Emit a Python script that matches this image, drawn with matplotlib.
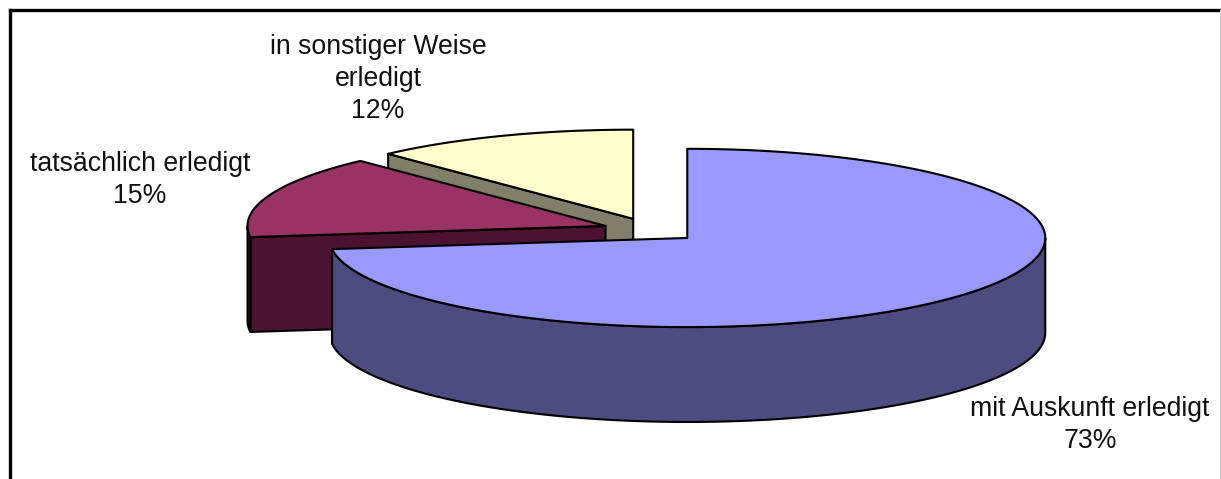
import numpy as np
import matplotlib.pyplot as plt
from matplotlib.patches import Polygon
from matplotlib.lines import Line2D

plt.rcParams['font.family'] = ['Liberation Sans', 'DejaVu Sans']

# slices, clockwise from 12 o'clock
labels = ["mit Auskunft erledigt", "tatsächlich erledigt", "in sonstiger Weise\nerledigt"]
shares = [73, 15, 12]
top_colors = ["#9999FF", "#993366", "#FFFFCC"]
side_colors = ["#4C4C80", "#4C1232", "#808068"]

W, H = 1221, 479
RADIUS_PX = 358
CENTER_PX = (651, 230)
TILT = 0.249      # vertical squash of the disc
DEPTH = 0.265     # thickness of the disc
EXPLODE = 0.135
START = 90.0
EDGE = dict(edgecolor="black", linewidth=1.5, joinstyle="round")


def proj(cx, cy, t, z=0.0):
    x = cx + np.cos(t)
    y = cy + np.sin(t)
    return np.column_stack([x, y * TILT + z])


def front_parts(lo, hi):
    # pieces of [lo, hi] (radians) where the rim faces the viewer (sin < 0)
    parts = []
    for k in range(-2, 2):
        a, b = -np.pi + 2 * np.pi * k, 2 * np.pi * k
        s, e = max(lo, a), min(hi, b)
        if e > s:
            parts.append((s, e))
    return parts


fig = plt.figure(figsize=(W / 100, H / 100), dpi=100)
ax = fig.add_axes([0, 0, 1, 1])
ax.set_xlim(-CENTER_PX[0] / RADIUS_PX, (W - CENTER_PX[0]) / RADIUS_PX)
ax.set_ylim(-(H - CENTER_PX[1]) / RADIUS_PX, CENTER_PX[1] / RADIUS_PX)
ax.axis("off")

slices = []
hi = START
for share, top_c, side_c in zip(shares, top_colors, side_colors):
    lo = hi - share * 3.6
    mid = np.radians((hi + lo) / 2)
    cx, cy = EXPLODE * np.cos(mid), EXPLODE * np.sin(mid)
    slices.append((np.radians(lo), np.radians(hi), cx, cy, top_c, side_c))
    hi = lo

# back slices first
slices.sort(key=lambda s: -s[3])

for lo, hi, cx, cy, top_c, side_c in slices:
    c_top = np.array([[cx, cy * TILT]])
    c_bot = np.array([[cx, cy * TILT - DEPTH]])
    # cut faces that look toward the viewer
    for ang, normal in ((lo, lo - np.pi / 2), (hi, hi + np.pi / 2)):
        if np.sin(normal) < -1e-6:
            r_top = proj(cx, cy, np.array([ang]))
            r_bot = proj(cx, cy, np.array([ang]), -DEPTH)
            pts = np.vstack([c_top, r_top, r_bot, c_bot])
            ax.add_patch(Polygon(pts, closed=True, facecolor=side_c, **EDGE))
    # curved outer wall
    for s, e in front_parts(lo, hi):
        t = np.linspace(s, e, 200)
        pts = np.vstack([proj(cx, cy, t), proj(cx, cy, t[::-1], -DEPTH)])
        ax.add_patch(Polygon(pts, closed=True, facecolor=side_c, **EDGE))
    # top face
    t = np.linspace(lo, hi, 400)
    pts = np.vstack([c_top, proj(cx, cy, t)])
    ax.add_patch(Polygon(pts, closed=True, facecolor=top_c, **EDGE))

# data labels
label_pos = [(1090, 425), (140, 180), (378, 79)]
for lab, share, (px, py) in zip(labels, shares, label_pos):
    fig.text(px / W, 1 - py / H, f"{lab}\n{share}%", ha="center", va="center",
             fontsize=19.2, linespacing=1.3, color="#111111")

# chart frame
fig.add_artist(Line2D([9.5 / W, 1], [1 - 9.5 / H] * 2, color="black", lw=2.4,
                      transform=fig.transFigure))
fig.add_artist(Line2D([9.5 / W] * 2, [0, 1 - 9.5 / H], color="black", lw=2.4,
                      transform=fig.transFigure))
fig.add_artist(Line2D([1 - 0.8 / W] * 2, [0, 1 - 9.5 / H], color="#CCCCCC", lw=0.8,
                      transform=fig.transFigure))

fig.savefig("out.png", dpi=100, facecolor="white")
